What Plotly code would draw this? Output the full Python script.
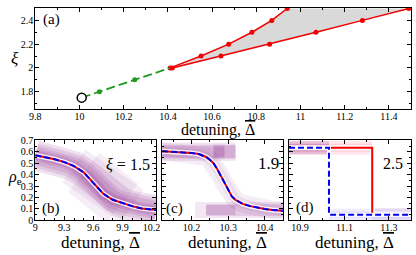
import plotly.graph_objects as go

# ---------------- data ----------------
# panel (a): bifurcation diagram
start_x = [10.01]
start_y = [1.75]
green_x = [10.01, 10.09, 10.25, 10.41]
green_y = [1.75, 1.80, 1.90, 2.00]
upper_x = [10.41, 10.55, 10.675, 10.78, 10.87, 10.94]
upper_y = [2.0, 2.1, 2.2, 2.3, 2.4, 2.5]
lower_x = [10.42, 10.64, 10.86, 11.07, 11.28, 11.49]
lower_y = [2.0, 2.1, 2.2, 2.3, 2.4, 2.5]

# panel (b): xi = 1.5
b_x = [9.0, 9.1, 9.2, 9.3, 9.4, 9.5, 9.55, 9.6, 9.65, 9.7, 9.8, 9.9, 10.0, 10.1, 10.2, 10.25]
b_y = [0.57, 0.555, 0.535, 0.51, 0.475, 0.42, 0.375, 0.33, 0.28, 0.235, 0.18, 0.15, 0.125, 0.105, 0.095, 0.09]

# panel (c): xi = 1.9
c_x = [10.12, 10.16, 10.2, 10.22, 10.24, 10.25, 10.26, 10.27, 10.28, 10.29, 10.30, 10.31, 10.32,
       10.34, 10.36, 10.38, 10.40, 10.42, 10.45]
c_y = [0.605, 0.6, 0.59, 0.58, 0.555, 0.53, 0.5, 0.45, 0.39, 0.32, 0.26, 0.21, 0.18,
       0.145, 0.125, 0.11, 0.1, 0.092, 0.085]
# density ridges of the two metastable states in (c)
c_hi_x = [10.12, 10.17, 10.22, 10.26, 10.29, 10.32]
c_hi_y = [0.60, 0.60, 0.60, 0.60, 0.60, 0.60]
c_lo_x = [10.21, 10.24, 10.28, 10.32, 10.38, 10.45]
c_lo_y = [0.09, 0.09, 0.09, 0.09, 0.09, 0.09]

# panel (d): xi = 2.5 (steps)
d_red_x = [10.85, 11.225, 11.40]
d_red_y = [0.635, 0.055, 0.055]
d_blue_x = [10.85, 11.03, 11.40]
d_blue_y = [0.635, 0.05, 0.05]

# ---------------- styles ----------------
RED = "#f20000"
BLUE = "#0000ee"
GREEN = "#229922"
PURPLE = (130, 20, 130)
FONT = "Liberation Serif"
W, H = 416, 255

fig = go.Figure()


def band(x, y, ax, rgb, widths, alpha):
    for w in widths:
        fig.add_trace(go.Scatter(
            x=x, y=y, mode="lines", xaxis="x" + ax, yaxis="y" + ax,
            line=dict(color="rgba(%d,%d,%d,%.3f)" % (rgb + (alpha,)), width=w),
            hoverinfo="skip", showlegend=False))


def curves(x, y, ax, shape="linear"):
    fig.add_trace(go.Scatter(x=x, y=y, mode="lines", xaxis="x" + ax, yaxis="y" + ax,
                             line=dict(color="rgba(255,255,255,0.85)", width=5, shape=shape),
                             showlegend=False, hoverinfo="skip"))
    fig.add_trace(go.Scatter(x=x, y=y, mode="lines", xaxis="x" + ax, yaxis="y" + ax,
                             line=dict(color=RED, width=2, shape=shape),
                             showlegend=False))


def blue_dash(x, y, ax, shape="linear"):
    fig.add_trace(go.Scatter(x=x, y=y, mode="lines", xaxis="x" + ax, yaxis="y" + ax,
                             line=dict(color=BLUE, width=2, dash="6px,3px", shape=shape),
                             showlegend=False))


# ---- panel (a)
fig.add_trace(go.Scatter(x=upper_x + lower_x[::-1], y=upper_y + lower_y[::-1],
                         fill="toself", fillcolor="#d9d9d9", mode="none",
                         xaxis="x", yaxis="y", showlegend=False, hoverinfo="skip"))
for bx, by in ((upper_x, upper_y), (lower_x, lower_y)):
    fig.add_trace(go.Scatter(x=bx, y=by, mode="lines+markers", xaxis="x", yaxis="y",
                             line=dict(color=RED, width=1.5),
                             marker=dict(color=RED, size=5), showlegend=False))
fig.add_trace(go.Scatter(x=green_x, y=green_y, mode="lines", xaxis="x", yaxis="y",
                         line=dict(color=GREEN, width=1.8, dash="9px,4px"), showlegend=False))
fig.add_trace(go.Scatter(x=green_x[1:3], y=green_y[1:3], mode="markers", xaxis="x", yaxis="y",
                         marker=dict(color=GREEN, size=5), showlegend=False))
fig.add_trace(go.Scatter(x=start_x, y=start_y, mode="markers", xaxis="x", yaxis="y",
                         marker=dict(color="white", size=9, line=dict(color="black", width=1.5)),
                         showlegend=False))

# ---- panel (b)
band(b_x, b_y, "2", PURPLE, [30, 24, 18, 12, 8], 0.13)
band(b_x[4:13], b_y[4:13], "2", PURPLE, [40], 0.08)
band(b_x[5:12], b_y[5:12], "2", PURPLE, [50], 0.07)
curves(b_x, b_y, "2")
blue_dash(b_x, b_y, "2")

# ---- panel (c)
band(c_x, c_y, "3", PURPLE, [18, 10], 0.08)
band(c_hi_x, c_hi_y, "3", PURPLE, [18, 12], 0.12)
band(c_hi_x[:5], c_hi_y[:5], "3", PURPLE, [14], 0.1)
band(c_hi_x[3:6], c_hi_y[3:6], "3", PURPLE, [14], 0.15)
band(c_hi_x[3:5], c_hi_y[3:5], "3", PURPLE, [10], 0.15)
band(c_lo_x, c_lo_y, "3", PURPLE, [16], 0.1)
band(c_lo_x[1:], c_lo_y[1:], "3", PURPLE, [12], 0.12)
band(c_lo_x[1:4], c_lo_y[1:4], "3", PURPLE, [10], 0.18)
curves(c_x, c_y, "3")
blue_dash(c_x, c_y, "3")

# ---- panel (d)
red_up_x = [d_red_x[0], d_red_x[1]]
red_up_y = [d_red_y[0], d_red_y[0]]
red_lo_x = [d_red_x[1], d_red_x[2]]
red_lo_y = [d_red_y[1], d_red_y[2]]
blue_up_x = [d_blue_x[0], d_blue_x[1]]
blue_up_y = [d_blue_y[0], d_blue_y[0]]
blue_lo_x = [d_blue_x[1], d_blue_x[2]]
blue_lo_y = [d_blue_y[1], d_blue_y[2]]
band(red_up_x, red_up_y, "4", (255, 70, 100), [14, 8], 0.13)
band(blue_lo_x, blue_lo_y, "4", (90, 90, 255), [12, 6], 0.11)
band(blue_up_x, blue_up_y, "4", PURPLE, [13, 7], 0.2)
band(red_lo_x, red_lo_y, "4", PURPLE, [12, 6], 0.09)
curves(d_red_x, d_red_y, "4", shape="hv")
fig.add_trace(go.Scatter(x=d_blue_x, y=d_blue_y, mode="lines", xaxis="x4", yaxis="y4",
                         line=dict(color="white", width=4, shape="hv"),
                         showlegend=False, hoverinfo="skip"))
blue_dash(d_blue_x, d_blue_y, "4", shape="hv")

# ---------------- axes ----------------
def px(x):
    return x / W


def py(y):
    return 1 - y / H


common = dict(showline=True, linecolor="black", linewidth=1, mirror="allticks",
              ticks="inside", ticklen=4, tickcolor="black", showgrid=False,
              zeroline=False, tickfont=dict(family=FONT, size=10, color="black"))
xc = dict(common, ticklabelstandoff=-2)
yc = dict(common, ticklabelstandoff=-1)


def minor(d):
    return dict(dtick=d, ticks="inside", ticklen=2, tickcolor="black", showgrid=False)


top = (py(108), py(2))
bot = (py(225), py(141))
fig.update_layout(
    xaxis=dict(domain=[px(30), px(415)], range=[9.8, 11.5], dtick=0.2, tick0=9.8,
               minor=minor(0.1), anchor="y", **xc),
    yaxis=dict(domain=list(top), range=[1.655, 2.505], dtick=0.2, tick0=0,
               minor=minor(0.1), anchor="x", **yc),
    xaxis2=dict(domain=[px(30), px(154)], range=[9.0, 10.25], dtick=0.3, tick0=9.0,
                minor=minor(0.1), anchor="y2", **xc),
    yaxis2=dict(domain=list(bot), range=[0, 0.7], dtick=0.1, tick0=0,
                minor=minor(0.05), anchor="x2", **yc),
    xaxis3=dict(domain=[px(160), px(284)], range=[10.12, 10.45], dtick=0.1, tick0=10.0,
                minor=minor(0.05), anchor="y3", **xc),
    yaxis3=dict(domain=list(bot), range=[0, 0.7], dtick=0.1, tick0=0, showticklabels=False,
                minor=minor(0.05), anchor="x3", **yc),
    xaxis4=dict(domain=[px(290), px(415)], range=[10.85, 11.40], dtick=0.2, tick0=10.9,
                minor=minor(0.1), anchor="y4", **xc),
    yaxis4=dict(domain=list(bot), range=[0, 0.7], dtick=0.1, tick0=0, showticklabels=False,
                minor=minor(0.05), anchor="x4", **yc),
)


def label(text, x, y, size):
    fig.add_annotation(text=text, x=px(x), y=py(y), xref="paper", yref="paper",
                       showarrow=False, xanchor="center", yanchor="middle",
                       font=dict(family=FONT, size=size, color="black"))


TITLE = "detuning, <span style='text-decoration:overline'>Δ</span>"
label("(a)", 47, 14, 15)
label("<i>ξ</i>", 9, 55, 17)
label(TITLE, 217, 130, 16)
label("(b)", 46, 213, 15)
label("(c)", 173, 212, 15)
label("(d)", 306, 211, 15)
label("<i>ξ</i> = 1.5", 125, 166, 16)
label("1.9", 269, 165, 17)
label("2.5", 397, 165, 16)
label("<i>ρ</i><sub>e</sub>", 9, 180, 16)
for cx in (97, 227, 357):
    label(TITLE, cx, 248, 17)

fig.update_layout(width=W, height=H, margin=dict(l=0, r=0, t=0, b=0),
                  paper_bgcolor="white", plot_bgcolor="white", showlegend=False)
fig.write_html("out.html", config={"displayModeBar": False},
               post_script="document.body.style.margin='0';document.body.style.padding='0';")
